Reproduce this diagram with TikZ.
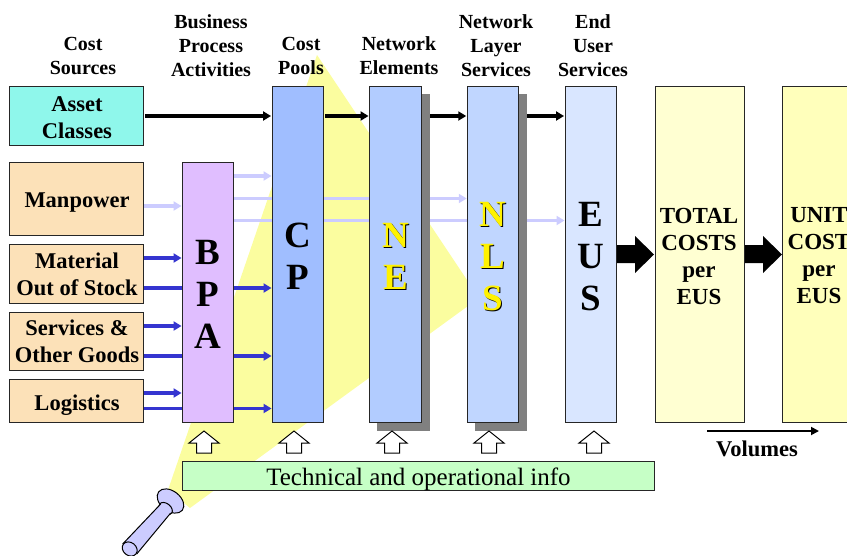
\documentclass[tikz,border=0pt]{standalone}
\usepackage{fontspec}
\setmainfont{Liberation Serif}
\usetikzlibrary{arrows.meta,calc}
\pgfdeclarelayer{conelayer}
\pgfdeclarelayer{linelayer}
\pgfdeclarelayer{shadowlayer}
\pgfsetlayers{conelayer,linelayer,shadowlayer,main}
\definecolor{coneY}{HTML}{FBFD9F}
\definecolor{assetC}{HTML}{8FF7EB}
\definecolor{sourceC}{HTML}{FCE1B8}
\definecolor{bpaC}{HTML}{E0BEFF}
\definecolor{cpC}{HTML}{A0BEFF}
\definecolor{neC}{HTML}{B2CCFF}
\definecolor{nlsC}{HTML}{C0D6FF}
\definecolor{eusC}{HTML}{D9E6FF}
\definecolor{totalC}{HTML}{FFFFD2}
\definecolor{unitC}{HTML}{FFFFBB}
\definecolor{techC}{HTML}{C6FFC6}
\definecolor{paleC}{HTML}{CCCCFF}
\definecolor{blueC}{HTML}{3535D0}
\definecolor{shadeC}{HTML}{808080}
\tikzset{
  x=1pt,y=-1pt,
  box/.style={draw=black!85,line width=1pt,inner sep=0pt},
  tall/.style={box,minimum width=51.5pt,minimum height=336pt},
  boxtext/.style={font=\fontsize{22.5}{27}\selectfont\bfseries,align=center,inner sep=0pt},
  costtext/.style={font=\fontsize{23}{27}\selectfont\bfseries,align=center,inner sep=0pt},
  big/.style={font=\fontsize{37}{42}\selectfont\bfseries,align=center,inner sep=0pt},
  head/.style={font=\fontsize{20}{24}\selectfont\bfseries,align=center,inner sep=0pt},
  blackline/.style={line width=3.4pt,draw=black,-{Triangle[length=8pt,width=9pt]}},
  paleline/.style={line width=3.8pt,draw=paleC,-{Triangle[length=8pt,width=9pt]}},
  blueline/.style={line width=3.4pt,draw=blueC,-{Triangle[length=8pt,width=9pt]}},
  hollow/.style={draw=black,fill=white,line width=1pt,line join=miter},
  lamp/.style={draw=black,fill=paleC,line width=1pt},
}
\newcommand{\yellowletters}[3]{%
  \node[big,text=black] at ($(#1)+(1.2,1)$) {#3};
  \node[big,text=yellow] (#2) at (#1) {#3};}
\begin{document}
\begin{tikzpicture}
\clip (0,0) rectangle (847,555);
\useasboundingbox (0,0) rectangle (847,555);
% cone of light
\begin{pgfonlayer}{conelayer}
\fill[coneY] (317,55) -- (479,298) -- (190,508) -- (168,490) -- cycle;
\end{pgfonlayer}
% headers
\node[head] (hcs) at (83,56) {Cost\\Sources};
\node[head] (hbpa) at (211,46) {Business\\Process\\Activities};
\node[head] (hcp) at (301,56) {Cost\\Pools};
\node[head] (hne) at (399,56) {Network\\Elements};
\node[head] (hnls) at (496,46) {Network\\Layer\\Services};
\node[head] (heus) at (593,46) {End\\User\\Services};
% sources
\node[box,fill=assetC,minimum width=134pt,minimum height=59pt] (asset) at (76.5,115.5) {};
\node[boxtext] (assett) at (77,117.5) {Asset\\Classes};
\node[box,fill=sourceC,minimum width=134pt,minimum height=73pt] (man) at (76.5,198.5) {};
\node[boxtext] (mant) at (77,202.5) {Manpower};
\node[box,fill=sourceC,minimum width=134pt,minimum height=59pt] (mat) at (76.5,273.5) {};
\node[boxtext] (matt) at (77,274.5) {Material\\Out of Stock};
\node[box,fill=sourceC,minimum width=134pt,minimum height=58pt] (ser) at (76.5,341) {};
\node[boxtext] (sert) at (77,341.5) {Services \&\\Other Goods};
\node[box,fill=sourceC,minimum width=134pt,minimum height=43pt] (log) at (76.5,400.5) {};
\node[boxtext] (logt) at (77,405.5) {Logistics};
% columns
\node[box,fill=bpaC,minimum width=51.5pt,minimum height=260pt] (bpa) at (207.8,292) {};
\node[big] (bpat) at (207.5,294.5) {B\\P\\A};
\node[tall,fill=cpC] (cp) at (297.8,254) {};
\node[big] (cpt) at (298,256) {C\\P};
\node[tall,fill=neC] (ne) at (395.3,254) {};
\yellowletters{395.5,256}{net}{N\\E}
\node[tall,fill=nlsC] (nls) at (493,254) {};
\yellowletters{493,256.5}{nlst}{N\\L\\S}
\node[tall,fill=eusC] (eus) at (590.8,254) {};
\node[big] (eust) at (590.5,256.5) {E\\U\\S};
\node[box,fill=totalC,minimum width=89pt,minimum height=336pt] (total) at (699.5,254) {};
\node[costtext] (totalt) at (699,256) {TOTAL\\COSTS\\per\\EUS};
\node[box,fill=unitC,minimum width=100pt,minimum height=336pt] (unit) at (832,254) {};
\node[costtext] (unitt) at (819,256) {UNIT\\COST\\per\\EUS};
\node[box,fill=techC,minimum width=472pt,minimum height=28.5pt] (tech) at (418,476.2) {};
\node[font=\fontsize{25}{28}\selectfont,inner sep=0pt] (techt) at (418.5,479) {Technical and operational info};
% shadows
\begin{pgfonlayer}{shadowlayer}
\fill[shadeC] ($(ne.south west)+(8,8.5)$) rectangle ($(ne.north east)+(8,8.5)$);
\fill[shadeC] ($(nls.south west)+(8,8.5)$) rectangle ($(nls.north east)+(8,8.5)$);
\end{pgfonlayer}
% connectors
\begin{pgfonlayer}{linelayer}
\draw[paleline] (bpa.east |- 0,176) -- (cp.west |- 0,176);
\draw[paleline] (bpa.east |- 0,198.5) -- (nls.west |- 0,198.5);
\draw[paleline] (bpa.east |- 0,220.5) -- (eus.west |- 0,220.5);
\draw[paleline] (man.east |- 0,206) -- (bpa.west |- 0,206);
\draw[blueline] (mat.east |- 0,258) -- (bpa.west |- 0,258);
\draw[blueline] (mat.east |- 0,288) -- (cp.west |- 0,288);
\draw[blueline] (ser.east |- 0,326) -- (bpa.west |- 0,326);
\draw[blueline] (ser.east |- 0,356) -- (cp.west |- 0,356);
\draw[blueline] (log.east |- 0,393) -- (bpa.west |- 0,393);
\draw[blueline] (log.east |- 0,408.5) -- (cp.west |- 0,408.5);
\draw[blackline] ([xshift=1pt]asset.east |- 0,116) -- ([xshift=-.5pt]cp.west |- 0,116);
\draw[blackline] ([xshift=1pt]cp.east |- 0,116) -- ([xshift=-.5pt]ne.west |- 0,116);
\draw[blackline] (ne.east |- 0,116) -- ([xshift=-.5pt]nls.west |- 0,116);
\draw[blackline] (nls.east |- 0,116) -- ([xshift=-.5pt]eus.west |- 0,116);
\end{pgfonlayer}
% block arrows
\foreach \xs in {617,745}
  \fill[black,shift={(\xs,0)}] (0,245) -- (18,245) -- (18,236) -- (37,254.5) -- (18,273) -- (18,263) -- (0,263) -- cycle;
% up arrows
\foreach \xs in {204,294,392,489,594}
  \draw[hollow,shift={(\xs,0)}] (0,431) -- (15,443) -- (7.5,443) -- (7.5,453) -- (-7.5,453) -- (-7.5,443) -- (-15,443) -- cycle;
% volumes
\coordinate (vola) at (707,431);
\coordinate (volb) at (819,431);
\draw[line width=1.8pt,-{Triangle[length=8pt,width=8pt]}] (vola) -- (volb);
\node[font=\fontsize{22.5}{24}\selectfont\bfseries,inner sep=0pt] (vol) at (757,449) {Volumes};
% torch
\draw[lamp,shift={(170.5,501)},rotate=-38] (0,0) ellipse [x radius=15pt,y radius=10pt];
\draw[lamp,shift={(165.7,508.5)},rotate=-38] (0,0) ellipse [x radius=7.5pt,y radius=5pt];
\fill[paleC] (160.7,504) -- (170.7,513) -- (136.7,554) -- (122.7,544) -- cycle;
\draw[lamp,fill=none] (160.7,504) -- (122.7,544);
\draw[lamp,fill=none] (170.7,513) -- (136.7,554);
\draw[lamp,shift={(129.7,549)},rotate=-38] (0,0) ellipse [x radius=8pt,y radius=6.5pt];
\end{tikzpicture}
\end{document}
